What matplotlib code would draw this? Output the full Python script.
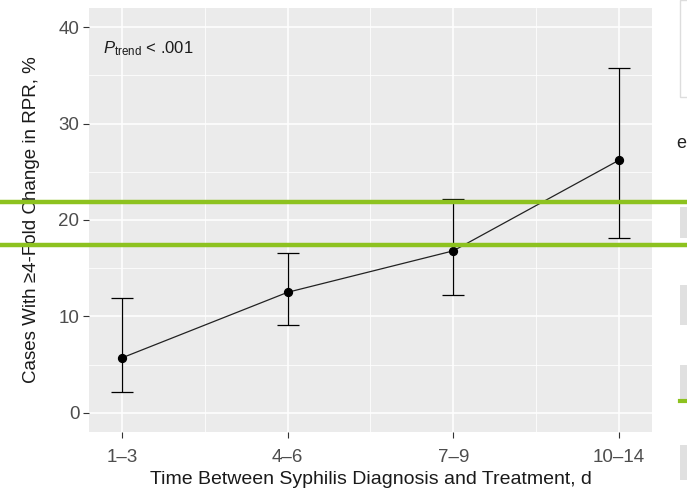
import matplotlib
matplotlib.use('Agg')
import matplotlib.pyplot as plt
from matplotlib.patches import Rectangle
from matplotlib.lines import Line2D
import numpy as np

plt.rcParams['font.family'] = ['Liberation Sans', 'DejaVu Sans']
plt.rcParams['mathtext.fontset'] = 'custom'
plt.rcParams['mathtext.rm'] = 'Liberation Sans'
plt.rcParams['mathtext.it'] = 'Liberation Sans:italic'

categories = ['1–3', '4–6', '7–9', '10–14']
pct = [5.7, 12.5, 16.8, 26.2]
ci_low = [2.1, 9.1, 12.2, 18.1]
ci_high = [11.9, 16.6, 22.2, 35.8]

W, H = 687, 491
fig = plt.figure(figsize=(W / 100, H / 100), dpi=100)
ax = fig.add_axes([89 / W, 1 - 432 / H, (652 - 89) / W, (432 - 8) / H])

x = np.arange(1, len(categories) + 1)
y = np.array(pct)
yerr = [y - np.array(ci_low), np.array(ci_high) - y]

ax.set_facecolor('#EBEBEB')
for s in ax.spines.values():
    s.set_visible(False)
ax.set_xlim(0.8, 4.2)
ax.set_ylim(-2, 42)
ax.set_xticks(x)
ax.set_xticklabels(categories)
ax.set_yticks([0, 10, 20, 30, 40])
ax.set_xticks([1.5, 2.5, 3.5], minor=True)
ax.set_yticks([5, 15, 25, 35], minor=True)
ax.grid(which='major', color='white', lw=1.1)
ax.grid(which='minor', color='white', lw=0.55)
ax.set_axisbelow(True)
ax.tick_params(which='major', length=4, width=0.8, color='#333333',
               labelsize=13.5, labelcolor='#4D4D4D')
ax.tick_params(axis='x', pad=8)
ax.tick_params(axis='y', pad=3)
ax.tick_params(which='minor', length=0)

ax.errorbar(x, y, yerr=yerr, fmt='none', ecolor='black', elinewidth=0.9,
            capsize=8, capthick=0.9, zorder=3)
ax.plot(x, y, color='#222222', lw=0.9, zorder=3)
ax.scatter(x, y, s=32, color='black', zorder=4)

ax.text(0.885, 37.8, r'$\mathit{P}_{\mathrm{trend}}$' + ' < .001',
        fontsize=12, va='center', ha='left', color='#1a1a1a')

ax.set_xlabel('Time Between Syphilis Diagnosis and Treatment, d',
              fontsize=14, color='#1a1a1a', labelpad=4)
ax.set_ylabel('Cases With ≥4-Fold Change in RPR, %',
              fontsize=13.5, color='#1a1a1a', labelpad=13)

# screenshot artifacts on the right edge
fig.add_artist(Rectangle((680 / W, 1 - 97 / H), 10 / W, 97 / H,
                         transform=fig.transFigure, facecolor='white',
                         edgecolor='#dddddd', lw=1))
for top, bot in [(207, 238), (285, 325), (365, 400), (445, 480)]:
    fig.add_artist(Rectangle((680 / W, 1 - bot / H), 10 / W, (bot - top) / H,
                             transform=fig.transFigure, facecolor='#E0E0E0',
                             edgecolor='none'))
fig.text(676 / W, 1 - 143 / H, 'e', fontsize=13, va='center', ha='left',
         color='#222222')

green = '#8DC21F'
for gy in [202, 245]:
    fig.add_artist(Line2D([0, 1], [1 - gy / H] * 2, transform=fig.transFigure,
                          color=green, lw=3.2))
fig.add_artist(Line2D([680 / W, 1], [1 - 401 / H] * 2, transform=fig.transFigure,
                      color=green, lw=3))

fig.savefig('out.png', dpi=100)
